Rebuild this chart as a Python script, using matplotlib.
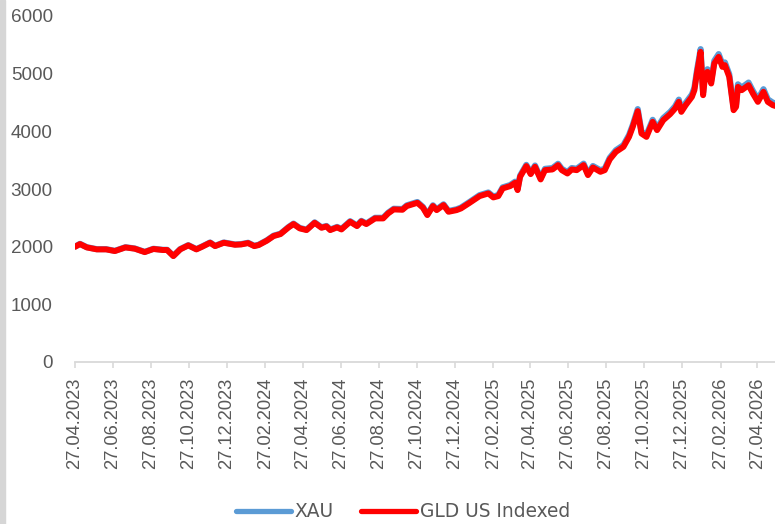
import matplotlib
matplotlib.use("Agg")
import matplotlib.pyplot as plt
import matplotlib.dates as mdates
from matplotlib import font_manager
import pandas as pd

# data
dates = ["2023-04-27", "2023-05-05", "2023-05-16", "2023-06-01", "2023-06-16", "2023-06-30",
         "2023-07-17", "2023-08-01", "2023-08-17", "2023-08-31", "2023-09-15", "2023-09-22",
         "2023-10-02", "2023-10-13", "2023-10-26", "2023-11-08", "2023-11-17", "2023-11-30",
         "2023-12-08", "2023-12-22", "2024-01-09", "2024-01-19", "2024-01-30", "2024-02-09",
         "2024-02-16", "2024-02-29", "2024-03-11", "2024-03-22", "2024-04-04", "2024-04-12",
         "2024-04-22", "2024-05-03", "2024-05-16", "2024-05-27", "2024-06-04", "2024-06-10",
         "2024-06-21", "2024-06-28", "2024-07-12", "2024-07-23", "2024-07-30", "2024-08-07",
         "2024-08-21", "2024-09-03", "2024-09-11", "2024-09-20", "2024-10-04", "2024-10-11",
         "2024-10-28", "2024-11-06", "2024-11-13", "2024-11-22", "2024-11-28", "2024-12-09",
         "2024-12-17", "2024-12-30", "2025-01-06", "2025-01-20", "2025-02-05", "2025-02-19",
         "2025-02-27", "2025-03-07", "2025-03-14", "2025-03-26", "2025-04-03", "2025-04-07",
         "2025-04-11", "2025-04-21", "2025-04-28", "2025-05-05", "2025-05-14", "2025-05-21",
         "2025-06-02", "2025-06-11", "2025-06-17", "2025-06-26", "2025-07-03", "2025-07-11",
         "2025-07-22", "2025-07-29", "2025-08-06", "2025-08-18", "2025-08-25", "2025-09-02",
         "2025-09-12", "2025-09-24", "2025-10-03", "2025-10-09", "2025-10-17", "2025-10-23",
         "2025-10-31", "2025-11-10", "2025-11-17", "2025-11-27", "2025-12-08", "2025-12-16",
         "2025-12-22", "2025-12-26", "2026-01-02", "2026-01-12", "2026-01-16", "2026-01-20",
         "2026-01-26", "2026-01-30", "2026-02-02", "2026-02-06", "2026-02-12", "2026-02-17",
         "2026-02-24", "2026-03-02", "2026-03-06", "2026-03-13", "2026-03-20", "2026-03-24",
         "2026-03-27", "2026-04-02", "2026-04-13", "2026-04-20", "2026-04-28", "2026-05-07",
         "2026-05-14", "2026-05-22", "2026-05-26"]

gld = [1998, 2045, 1987, 1953, 1953, 1924,
       1987, 1965, 1906, 1960, 1942, 1942,
       1837, 1953, 2022, 1953, 1998, 2068,
       2010, 2068, 2033, 2039, 2062, 2010,
       2028, 2103, 2184, 2218, 2334, 2392,
       2317, 2288, 2414, 2328, 2351, 2288,
       2334, 2299, 2432, 2357, 2438, 2392,
       2490, 2490, 2577, 2646, 2640, 2704,
       2761, 2675, 2548, 2704, 2634, 2721,
       2605, 2634, 2663, 2761, 2877, 2923,
       2854, 2877, 3010, 3050, 3107, 2981,
       3211, 3397, 3258, 3385, 3166, 3327,
       3339, 3414, 3327, 3269, 3339, 3327,
       3414, 3241, 3373, 3298, 3327, 3513,
       3645, 3731, 3904, 4078, 4350, 3962,
       3904, 4165, 4021, 4194, 4298, 4396,
       4511, 4338, 4454, 4598, 4714, 5003,
       5378, 4627, 4945, 5031, 4829, 5176,
       5291, 5118, 5147, 4945, 4367, 4425,
       4771, 4714, 4800, 4656, 4511, 4685,
       4511, 4454, 4440]

xau = [2001, 2049, 1991, 1957, 1957, 1928,
       1991, 1969, 1910, 1964, 1946, 1946,
       1841, 1958, 2027, 1958, 2003, 2073,
       2015, 2073, 2039, 2045, 2068, 2016,
       2034, 2109, 2191, 2225, 2341, 2400,
       2325, 2296, 2422, 2336, 2360, 2297,
       2343, 2308, 2442, 2367, 2448, 2402,
       2501, 2501, 2589, 2658, 2653, 2717,
       2775, 2689, 2561, 2718, 2648, 2735,
       2619, 2649, 2678, 2777, 2894, 2940,
       2871, 2895, 3029, 3069, 3127, 3000,
       3232, 3419, 3280, 3408, 3188, 3350,
       3363, 3438, 3351, 3293, 3364, 3352,
       3440, 3266, 3399, 3326, 3353, 3541,
       3674, 3761, 3936, 4111, 4386, 3995,
       3937, 4200, 4055, 4230, 4335, 4434,
       4550, 4376, 4493, 4639, 4756, 5048,
       5426, 4669, 4990, 5077, 4873, 5223,
       5340, 5165, 5195, 4991, 4408, 4467,
       4816, 4759, 4846, 4701, 4555, 4731,
       4555, 4498, 4484]

tick_dates = pd.date_range("2023-04-27", periods=19, freq=pd.DateOffset(months=2))
y_ticks = [0, 1000, 2000, 3000, 4000, 5000, 6000]

x = pd.to_datetime(dates)

installed = {f.name for f in font_manager.fontManager.ttflist}
narrow = "Liberation Sans Narrow" if "Liberation Sans Narrow" in installed else "Liberation Sans"
grey_text = "#595959"
axis_grey = "#D9D9D9"

fig = plt.figure(figsize=(7.75, 5.24), dpi=100)
ax = fig.add_axes([75 / 775, 162 / 524, 700 / 775, 346 / 524])

ax.plot(x, xau, color="#5B9BD5", linewidth=4.4, solid_capstyle="round", solid_joinstyle="round", label="XAU")
ax.plot(x, gld, color="#FF0000", linewidth=4.3, solid_capstyle="round", solid_joinstyle="round", label="GLD US Indexed")

ax.set_xlim(pd.Timestamp("2023-04-27"), pd.Timestamp("2026-05-25 12:00"))
ax.set_ylim(0, 6000)
ax.set_yticks(y_ticks)
ax.set_xticks(tick_dates)
ax.xaxis.set_major_formatter(mdates.DateFormatter("%d.%m.%Y"))

for side in ["top", "right", "left"]:
    ax.spines[side].set_visible(False)
ax.spines["bottom"].set_color(axis_grey)
ax.spines["bottom"].set_linewidth(1.3)

ax.tick_params(axis="y", length=0, pad=16, labelsize=13.6, labelcolor=grey_text)
ax.tick_params(axis="x", length=4, width=1.2, color=axis_grey, pad=7, labelcolor=grey_text)
for lbl in ax.get_yticklabels():
    lbl.set_family("Liberation Sans")
for lbl in ax.get_xticklabels():
    lbl.set_family(narrow)
    lbl.set_fontsize(15.5 if narrow != "Liberation Sans" else 13.2)
    lbl.set_rotation(90)

# grey strip at left edge of the picture
fig.patches.append(plt.Rectangle((0, 0), 5 / 775, 1, transform=fig.transFigure,
                                 color="#D6D6D6", zorder=0))

leg = fig.legend(loc="center", bbox_to_anchor=(0.52, 0.023), ncol=2, frameon=False,
                 prop={"family": "DejaVu Sans", "size": 13.4}, handlelength=2.95,
                 handletextpad=0.2, columnspacing=1.5)
for h in leg.get_lines():
    h.set_linewidth(3.8)
for t in leg.get_texts():
    t.set_color(grey_text)

fig.savefig("out.png", dpi=100)
